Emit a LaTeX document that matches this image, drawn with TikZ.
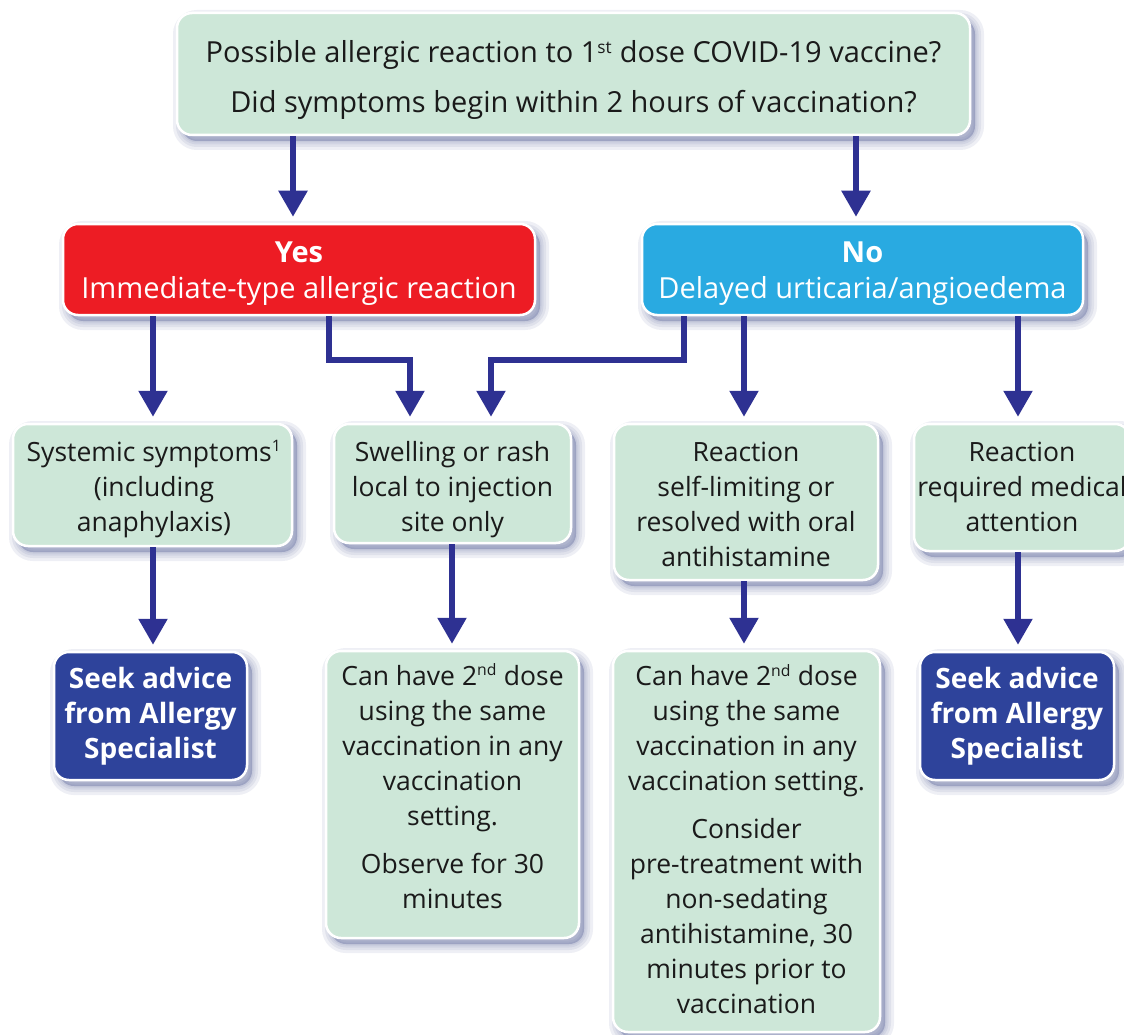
\documentclass[tikz,border=0pt]{standalone}
\usepackage{fontspec}
\setmainfont{Open Sans}
\usetikzlibrary{arrows.meta}
\definecolor{boxgreen}{RGB}{205,231,216}
\definecolor{yesred}{RGB}{237,28,36}
\definecolor{nocyan}{RGB}{41,170,225}
\definecolor{seekblue}{RGB}{46,67,155}
\definecolor{arrowc}{RGB}{46,49,146}
\definecolor{shc}{RGB}{70,82,140}
\definecolor{txt}{RGB}{26,26,26}
\tikzset{
  shlayer/.style={preaction={draw=shc, fill=shc, line width=#1, draw opacity=0.09, fill opacity=0.09,
      transform canvas={shift={(5pt,-6pt)}}}},
  basebox/.style={rounded corners=15pt, draw=white, line width=2.5pt,
      inner sep=0pt, shlayer=18pt, shlayer=12pt, shlayer=7pt, shlayer=3pt},
  greenbox/.style={basebox, fill=boxgreen},
  yesbox/.style={basebox, fill=yesred},
  nobox/.style={basebox, fill=nocyan},
  seekbox/.style={basebox, fill=seekblue},
  gtext/.style={align=center, inner sep=0pt, text=txt, font=\fontsize{26.5}{35}\selectfont},
  bigtext/.style={align=center, inner sep=0pt, font=\fontsize{29}{36}\selectfont},
  seektext/.style={align=center, inner sep=0pt, text=white, font=\fontsize{28}{35}\selectfont\bfseries},
  arr/.style={draw=arrowc, line width=5.5pt, -{Triangle[width=28pt,length=26pt]}, shorten >=6pt},
}
\newcommand{\supsm}[1]{\textsuperscript{\scalebox{0.85}{#1}}}
\begin{document}
\begin{tikzpicture}[x=1pt,y=-1pt]
\useasboundingbox (0,0) rectangle (1124,1035);
% column coordinates
\coordinate (k1) at (293,0);
\coordinate (k2) at (856,0);
\coordinate (k3) at (153,0);
\coordinate (k4) at (329,0);
\coordinate (k5) at (410,0);
\coordinate (k6) at (684,0);
\coordinate (k7) at (491,0);
\coordinate (k8) at (744,0);
\coordinate (k9) at (1018,0);
\coordinate (k10) at (452,0);
\coordinate (lvl) at (0,360);

% boxes
\node[greenbox, minimum width=793pt, minimum height=122pt] (top) at (573.5,74) {};
\node[yesbox, minimum width=472pt, minimum height=91pt] (yes) at (299,269.5) {};
\node[nobox, minimum width=441pt, minimum height=91pt] (no) at (862.5,269.5) {};
\node[greenbox, minimum width=279pt, minimum height=122pt] (sys) at (152.5,485) {};
\node[greenbox, minimum width=237pt, minimum height=119pt] (swell) at (452.5,483.5) {};
\node[greenbox, minimum width=264pt, minimum height=156pt] (self) at (746,502) {};
\node[greenbox, minimum width=216pt, minimum height=127pt] (req) at (1022,487.5) {};
\node[seekbox, minimum width=193pt, minimum height=128pt] (seekL) at (150.5,716) {};
\node[greenbox, minimum width=253pt, minimum height=287pt] (canL) at (452.5,794.5) {};
\node[greenbox, minimum width=267pt, minimum height=381pt] (canR) at (746.5,841.5) {};
\node[seekbox, minimum width=194pt, minimum height=128pt] (seekR) at (1017,716) {};

% texts
\node[bigtext, text=txt] (top-t) at (573.5,80)
  {\strut Possible allergic reaction to 1\supsm{st} dose COVID-19 vaccine?\\[14pt]
   Did symptoms begin within 2 hours of vaccination?\strut};
\node[bigtext, text=white] (yes-t) at (299,273)
  {\strut\textbf{Yes}\\Immediate-type allergic reaction\strut};
\node[bigtext, text=white] (no-t) at (862.5,273)
  {\strut\textbf{No}\\Delayed urticaria/angioedema\strut};
\node[gtext] (sys-t) at (154,489)
  {\strut Systemic symptoms\supsm{1}\\(including\\anaphylaxis)\strut};
\node[gtext] (swell-t) at (452.5,489)
  {\strut Swelling or rash\\local to injection\\site only\strut};
\node[gtext] (self-t) at (746,506.5)
  {\strut Reaction\\self-limiting or\\resolved with oral\\antihistamine\strut};
\node[gtext] (req-t) at (1022,489)
  {\strut Reaction\\required medical\\attention\strut};
\node[seektext] (seekL-t) at (150.5,716)
  {\strut Seek advice\\from Allergy\\Specialist\strut};
\node[gtext] (canL-t) at (452.5,789.5)
  {\strut Can have 2\supsm{nd} dose\\using the same\\vaccination in any\\vaccination\\setting.\\[13pt]
   Observe for 30\\minutes\strut};
\node[gtext] (canR-t) at (746.5,842.5)
  {\strut Can have 2\supsm{nd} dose\\using the same\\vaccination in any\\vaccination setting.\\[13pt]
   Consider\\pre-treatment with\\non-sedating\\antihistamine, 30\\minutes prior to\\vaccination\strut};
\node[seektext] (seekR-t) at (1017,716)
  {\strut Seek advice\\from Allergy\\Specialist\strut};

% connectors
\draw[arr] (top.south -| k1) -- (yes.north -| k1);
\draw[arr] (top.south -| k2) -- (no.north -| k2);
\draw[arr] (yes.south -| k3) -- (sys.north -| k3);
\draw[arr] (yes.south -| k4) -- (lvl -| k4) -- (lvl -| k5) -- (swell.north -| k5);
\draw[arr] (no.south -| k6) -- (lvl -| k6) -- (lvl -| k7) -- (swell.north -| k7);
\draw[arr] (no.south -| k8) -- (self.north -| k8);
\draw[arr] (no.south -| k9) -- (req.north -| k9);
\draw[arr] (sys.south -| k3) -- (seekL.north -| k3);
\draw[arr] (swell.south -| k10) -- (canL.north -| k10);
\draw[arr] (self.south -| k8) -- (canR.north -| k8);
\draw[arr] (req.south -| k9) -- (seekR.north -| k9);
\end{tikzpicture}
\end{document}
